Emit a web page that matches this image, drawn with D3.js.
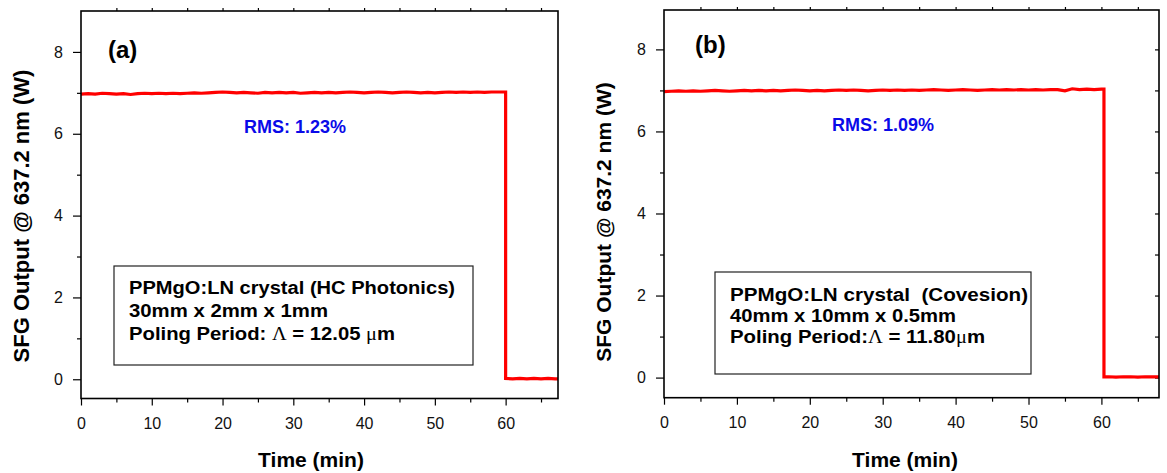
<!DOCTYPE html>
<html><head><meta charset="utf-8">
<script src="https://cdn.jsdelivr.net/npm/d3@7"></script>
<style>
body{margin:0;background:#fff}
svg text{font-family:Arial,"Liberation Sans",sans-serif}
</style></head>
<body><svg id="c" width="1167" height="473"></svg>
<script>
// ---------- data ----------
const timeA = [0,1,2,3,4,5,6,7,8,9,10,11,12,13,14,15,16,17,18,19,20,21,22,23,24,25,26,27,28,29,30,31,32,33,34,35,36,37,38,39,40,41,42,43,44,45,46,47,48,49,50,51,52,53,54,55,56,57,58,59,60,60,61,62,63,64,65,66,67,67.4];
const powerA = [6.97,6.98,6.97,6.99,6.98,6.97,6.98,6.96,6.98,6.99,
                6.98,6.99,6.98,6.99,6.98,6.99,7.00,6.99,7.00,7.01,
                7.02,7.01,7.00,7.01,7.00,6.99,7.01,7.00,7.01,7.00,
                7.01,6.99,7.00,7.01,7.00,7.01,7.00,7.01,7.02,7.01,
                7.00,7.01,7.02,7.01,7.00,7.01,7.02,7.01,7.00,7.01,
                7.00,7.01,7.02,7.01,7.02,7.01,7.02,7.01,7.02,7.02,
                7.02,0.02,0.01,0.02,0.01,0.02,0.01,0.02,0.01,0.01];
const timeB = [0,1,2,3,4,5,6,7,8,9,10,11,12,13,14,15,16,17,18,19,20,21,22,23,24,25,26,27,28,29,30,31,32,33,34,35,36,37,38,39,40,41,42,43,44,45,46,47,48,49,50,51,52,53,54,55,56,57,58,59,60,60.35,60.35,61,62,63,64,65,66,67,67.9];
const powerB = [6.97,6.98,6.99,6.98,6.99,6.98,6.99,7.00,6.99,6.98,
                6.99,7.00,6.99,7.00,6.99,7.00,6.99,7.00,7.01,7.00,
                6.99,7.00,6.99,7.00,7.01,7.00,7.01,7.00,6.99,7.00,
                7.01,7.00,7.01,7.00,7.01,7.00,7.01,7.02,7.01,7.00,
                7.01,7.02,7.01,7.00,7.01,7.02,7.01,7.02,7.01,7.02,
                7.01,7.02,7.01,7.02,7.02,6.99,7.04,7.02,7.03,7.02,
                7.03,7.03,0.02,0.02,0.01,0.02,0.02,0.01,0.02,0.02,0.02];
const xMajor = [0,10,20,30,40,50,60];
const xMinor = [5,15,25,35,45,55,65];
const xTop = [5,10,15,20,25,30,35,40,45,50,55,60,65];
const yMajor = [0,2,4,6,8];
const yMinor = [1,3,5,7];
const yRight = [0,1,2,3,4,5,6,7,8];
const panelLabels = ["(a)","(b)"];
const rmsLabels = ["RMS: 1.23%","RMS: 1.09%"];
const yTitle = "SFG Output @ 637.2 nm (W)";
const xTitle = "Time (min)";
const boxLinesA = [
  [["PPMgO:LN crystal (HC Photonics)",0]],
  [["30mm x 2mm x 1mm",0]],
  [["Poling Period: ",0],["\u039B",1],[" = 12.05 ",0],["\u03BC",1],["m",0]]
];
const boxLinesB = [
  [["PPMgO:LN crystal \u00A0(Covesion)",0]],
  [["40mm x 10mm x 0.5mm",0]],
  [["Poling Period:",0],["\u039B",1],[" = 11.80",0],["\u03BC",1],["m",0]]
];

// ---------- layout ----------
const panels = [
  {left:81, right:558, top:11, bottom:398.5, xMax:67.4, yMin:-0.47, yMax:9.0,
   time:timeA, power:powerA, label:panelLabels[0], rms:rmsLabels[0],
   labelPos:[108,58], rmsPos:[244,133], rightTicks:false,
   box:{x:114,y:266,w:359,h:99}, boxLines:boxLinesA, lineY:[294,317,340], textX:129,
   lineW:[326,199,266], yTitleX:29, yTitleY:216, yTitleSize:22, xTitleX:311},
  {left:664, right:1159, top:10, bottom:397.7, xMax:67.9, yMin:-0.49, yMax:8.96,
   time:timeB, power:powerB, label:panelLabels[1], rms:rmsLabels[1],
   labelPos:[695,53], rmsPos:[832,131], rightTicks:true,
   box:{x:715,y:272,w:316,h:102}, boxLines:boxLinesB, lineY:[301,322,343], textX:730,
   lineW:[298,226,255], yTitleX:611, yTitleY:222, yTitleSize:21, xTitleX:905}
];

const svg = d3.select("#c");

panels.forEach(p => {
  const x = d3.scaleLinear().domain([0,p.xMax]).range([p.left,p.right]);
  const y = d3.scaleLinear().domain([p.yMin,p.yMax]).range([p.bottom,p.top]);
  const g = svg.append("g");

  g.append("g").attr("transform",`translate(0,${p.bottom})`)
    .call(d3.axisBottom(x).tickValues(xMajor).tickSize(7).tickPadding(12).tickSizeOuter(0));
  g.append("g").attr("transform",`translate(0,${p.bottom})`)
    .call(d3.axisBottom(x).tickValues(xMinor).tickSize(4).tickFormat("").tickSizeOuter(0));
  g.append("g").attr("transform",`translate(0,${p.top})`)
    .call(d3.axisTop(x).tickValues(xTop).tickSize(3).tickFormat("").tickSizeOuter(0));
  g.append("g").attr("transform",`translate(${p.left},0)`)
    .call(d3.axisLeft(y).tickValues(yMajor).tickSize(8).tickPadding(10).tickSizeOuter(0));
  g.append("g").attr("transform",`translate(${p.left},0)`)
    .call(d3.axisLeft(y).tickValues(yMinor).tickSize(4).tickFormat("").tickSizeOuter(0));
  if (p.rightTicks) {
    g.append("g").attr("transform",`translate(${p.right},0)`)
      .call(d3.axisLeft(y).tickValues(yRight).tickSize(4).tickFormat("").tickSizeOuter(0));
  }
  g.selectAll(".domain").remove();
  g.selectAll(".tick line").attr("stroke","#000").attr("stroke-width",1.2);
  g.selectAll(".tick text").attr("font-size",16).attr("fill","#111")
    .attr("font-family","Arial, 'Liberation Sans', sans-serif");

  const line = d3.line().x((d,i)=>x(p.time[i])).y(d=>y(d));
  g.append("path").datum(p.power).attr("d",line)
    .attr("fill","none").attr("stroke","#ff0000").attr("stroke-width",3.2)
    .attr("stroke-linejoin","miter");

  g.append("rect").attr("x",p.left).attr("y",p.top)
    .attr("width",p.right-p.left).attr("height",p.bottom-p.top)
    .attr("fill","none").attr("stroke","#000").attr("stroke-width",1.6);

  g.append("text").attr("x",p.labelPos[0]).attr("y",p.labelPos[1])
    .attr("font-size",24).attr("font-weight","bold").attr("fill","#000").text(p.label);
  g.append("text").attr("x",p.rmsPos[0]).attr("y",p.rmsPos[1])
    .attr("font-size",18).attr("font-weight","bold").attr("fill","#0a0ae8").text(p.rms);

  g.append("rect").attr("x",p.box.x).attr("y",p.box.y).attr("width",p.box.w).attr("height",p.box.h)
    .attr("fill","#fff").attr("stroke","#222").attr("stroke-width",1.2);
  p.boxLines.forEach((segs,i) => {
    const t = g.append("text").attr("x",p.textX).attr("y",p.lineY[i])
      .attr("font-size",18).attr("font-weight","bold").attr("fill","#000")
      .attr("textLength",p.lineW[i]).attr("lengthAdjust","spacingAndGlyphs");
    segs.forEach(s => {
      const ts = t.append("tspan").text(s[0]);
      if (s[1]) ts.attr("font-family","'Times New Roman','Liberation Serif',serif").attr("font-weight","normal");
    });
  });

  g.append("text").attr("transform",`translate(${p.yTitleX},${p.yTitleY}) rotate(-90)`)
    .attr("text-anchor","middle").attr("font-size",p.yTitleSize).attr("font-weight","bold")
    .attr("fill","#000").text(yTitle);
  g.append("text").attr("x",p.xTitleX).attr("y",467).attr("text-anchor","middle")
    .attr("font-size",21).attr("font-weight","bold").attr("fill","#000").text(xTitle);
});
</script>
</body></html>
